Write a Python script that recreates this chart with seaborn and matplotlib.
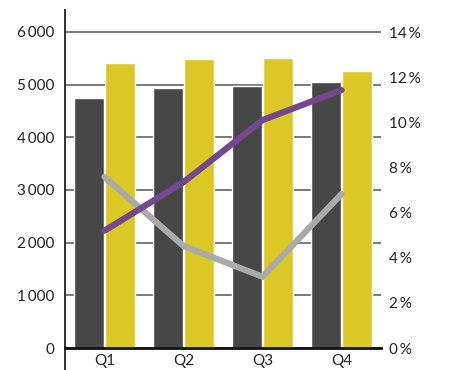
import numpy as np
import pandas as pd
import matplotlib
matplotlib.use("Agg")
import matplotlib.pyplot as plt
import seaborn as sns

quarters = ["Q1", "Q2", "Q3", "Q4"]
series_a = [4750, 4930, 4970, 5050]
series_b = [5400, 5480, 5500, 5250]
rate_purple = [5.2, 7.35, 10.1, 11.43]
rate_gray = [7.58, 4.52, 3.16, 6.82]

left_ticks = [0, 1000, 2000, 3000, 4000, 5000, 6000]
left_labels = ["0", "1\u2009000", "2\u2009000", "3\u2009000", "4\u2009000", "5\u2009000", "6\u2009000"]
right_ticks = [0, 2, 4, 6, 8, 10, 12, 14]
right_labels = [f"{v}\u2009%" for v in right_ticks]

dark = "#474747"
yellow = "#dbc826"
purple = "#74488f"
gray = "#aaaaaa"

sns.set_theme(style="white")
plt.rcParams["font.family"] = ["Lato", "DejaVu Sans"]

bars = pd.DataFrame({
    "quarter": quarters * 2,
    "value": series_a + series_b,
    "series": ["A"] * 4 + ["B"] * 4,
})

fig = plt.figure(figsize=(4.75, 3.7), dpi=100)
ax = fig.add_axes([65 / 475, 22 / 370, 316 / 475, 338 / 370])

for v in left_ticks:
    ax.axhline(v, color="#555555", lw=1.1, zorder=0)

sns.barplot(data=bars, x="quarter", y="value", hue="series",
            palette=[dark, yellow], width=0.79, gap=0.06,
            saturation=1, ax=ax, legend=False, zorder=2)

ax.set_xlim(-0.5, 3.5)
ax.set_ylim(0, 6414)
ax.set_yticks(left_ticks)
ax.set_yticklabels(left_labels)
ax.set_xlabel("")
ax.set_ylabel("")
ax.tick_params(axis="y", length=0, pad=8, labelsize=11, labelcolor="#222222")
ax.tick_params(axis="x", length=0, pad=4.5, labelsize=11, labelcolor="#222222")
for s in ["top", "right"]:
    ax.spines[s].set_visible(False)
ax.spines["left"].set_color("#222222")
ax.spines["left"].set_linewidth(1.3)
ax.spines["bottom"].set_color("#111111")
ax.spines["bottom"].set_linewidth(2)
ax.spines["bottom"].set_zorder(5)
ax.plot([0, 0], [0, -0.07], transform=ax.transAxes, color="#222222",
        lw=1.3, clip_on=False)

ax2 = ax.twinx()
x_pos = np.arange(len(quarters))
sns.lineplot(x=x_pos, y=rate_gray, color=gray, lw=4.5, ax=ax2,
             solid_capstyle="round", solid_joinstyle="miter")
sns.lineplot(x=x_pos, y=rate_purple, color=purple, lw=4.5, ax=ax2,
             solid_capstyle="round", solid_joinstyle="miter")
ax2.set_ylim(0, 14.98)
ax2.set_yticks(right_ticks)
ax2.set_yticklabels(right_labels)
ax2.set_ylabel("")
ax2.tick_params(axis="y", length=0, pad=6, labelsize=11, labelcolor="#222222")
for s in ["top", "right", "left", "bottom"]:
    ax2.spines[s].set_visible(False)
ax2.set_xlim(-0.5, 3.5)

fig.savefig("out.png", dpi=100)
